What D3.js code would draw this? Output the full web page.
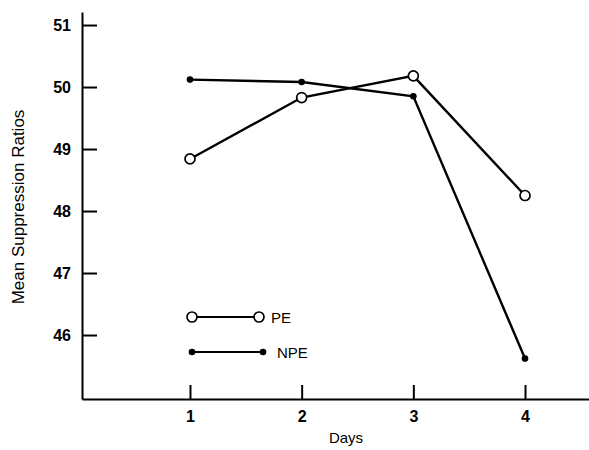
<!DOCTYPE html>
<html>
<head>
<meta charset="utf-8">
<script src="https://cdn.jsdelivr.net/npm/d3@7"></script>
<style>
  body { margin: 0; background: #fff; }
  svg { display: block; font-family: "Liberation Sans", Arial, sans-serif; }
  .axis text { font-size: 16px; font-weight: bold; fill: #000; }
  .axis path, .axis line { stroke: #000; stroke-width: 2; }
</style>
</head>
<body>
<div id="chart"></div>
<script>
// Data
const days = [1, 2, 3, 4];
const peValues = [48.84, 49.83, 50.18, 48.25];
const npeValues = [50.12, 50.08, 49.85, 45.62];
const yTicks = [46, 47, 48, 49, 50, 51];
const seriesNames = ["PE", "NPE"];

const width = 589;
const height = 450;

const svg = d3.select("#chart")
    .append("svg")
    .attr("width", width)
    .attr("height", height);

// Scales (axis corner at 82,399)
const xScale = d3.scaleLinear()
    .domain([0.033, 4.573])
    .range([82, 589]);

const yScale = d3.scaleLinear()
    .domain([44.968, 51.21])
    .range([399, 12]);

// Axes
const yAxis = d3.axisLeft(yScale)
    .tickValues(yTicks)
    .tickSizeInner(-15)
    .tickSizeOuter(0)
    .tickPadding(11)
    .tickFormat(d3.format("d"));

const xAxis = d3.axisBottom(xScale)
    .tickValues(days)
    .tickSizeInner(-14)
    .tickSizeOuter(0)
    .tickPadding(12)
    .tickFormat(d3.format("d"));

svg.append("g")
    .attr("class", "axis")
    .attr("transform", "translate(82,0)")
    .call(yAxis);

svg.append("g")
    .attr("class", "axis")
    .attr("transform", "translate(0,399)")
    .call(xAxis);

// Axis titles
svg.append("text")
    .attr("x", 346)
    .attr("y", 443)
    .attr("text-anchor", "middle")
    .attr("font-size", 15)
    .text("Days");

svg.append("text")
    .attr("transform", "translate(24,207) rotate(-90)")
    .attr("text-anchor", "middle")
    .attr("font-size", 17)
    .text("Mean Suppression Ratios");

// Lines
const line = d3.line()
    .x((d, i) => xScale(days[i]))
    .y(d => yScale(d));

svg.append("path")
    .datum(npeValues)
    .attr("d", line)
    .attr("fill", "none")
    .attr("stroke", "#000")
    .attr("stroke-width", 2.4);

svg.append("path")
    .datum(peValues)
    .attr("d", line)
    .attr("fill", "none")
    .attr("stroke", "#000")
    .attr("stroke-width", 2.4);

// Markers
svg.selectAll(".npe-dot")
    .data(npeValues)
    .enter()
    .append("circle")
    .attr("class", "npe-dot")
    .attr("cx", (d, i) => xScale(days[i]))
    .attr("cy", d => yScale(d))
    .attr("r", 3.3)
    .attr("fill", "#000");

svg.selectAll(".pe-dot")
    .data(peValues)
    .enter()
    .append("circle")
    .attr("class", "pe-dot")
    .attr("cx", (d, i) => xScale(days[i]))
    .attr("cy", d => yScale(d))
    .attr("r", 5)
    .attr("fill", "#fff")
    .attr("stroke", "#000")
    .attr("stroke-width", 1.7);

// Legend
const legend = svg.append("g");

// PE entry
legend.append("line")
    .attr("x1", 192).attr("x2", 259)
    .attr("y1", 317).attr("y2", 317)
    .attr("stroke", "#000").attr("stroke-width", 2);
[192, 259].forEach(x => {
    legend.append("circle")
        .attr("cx", x).attr("cy", 317).attr("r", 5)
        .attr("fill", "#fff").attr("stroke", "#000").attr("stroke-width", 1.7);
});
legend.append("text")
    .attr("x", 271).attr("y", 322.5)
    .attr("font-size", 15)
    .text(seriesNames[0]);

// NPE entry
legend.append("line")
    .attr("x1", 192).attr("x2", 263)
    .attr("y1", 352).attr("y2", 352)
    .attr("stroke", "#000").attr("stroke-width", 2);
[192, 263].forEach(x => {
    legend.append("circle")
        .attr("cx", x).attr("cy", 352).attr("r", 3.3)
        .attr("fill", "#000");
});
legend.append("text")
    .attr("x", 277).attr("y", 358)
    .attr("font-size", 15)
    .text(seriesNames[1]);
</script>
</body>
</html>
